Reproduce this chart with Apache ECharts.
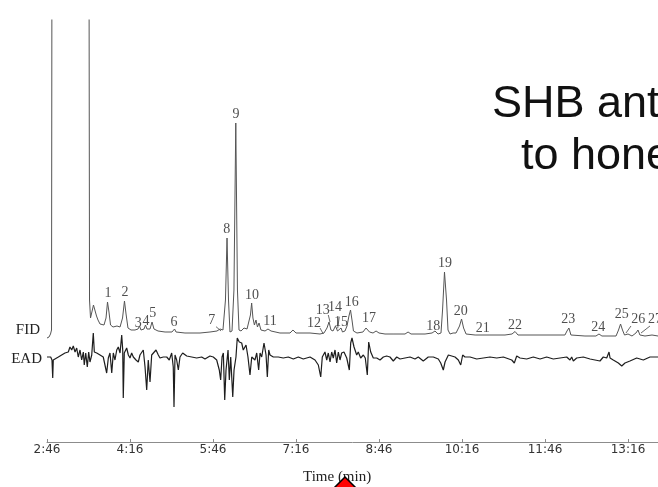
<!DOCTYPE html>
<html>
<head>
<meta charset="utf-8">
<script src="https://cdn.jsdelivr.net/npm/echarts@6/dist/echarts.min.js"></script>
<style>
  html, body { margin: 0; padding: 0; background: #fff; }
  #main { width: 658px; height: 487px; }
</style>
</head>
<body>
<div id="main"></div>
<script>
// retention time in seconds, signal in arbitrary units (FID baseline = 0, EAD baseline = 0)
var tickSeconds = [166, 256, 346, 436, 526, 616, 706, 796];

// FID trace [time_s, response]
var fidTrace = [
  [166, -8], [168.2, -7], [169.8, -4], [170.9, 0], [171.4, 420],
  [211.5, 420], [212.1, 30], [213.2, 12], [214.8, 10], [216.4, 25], [218, 27], [219.7, 14],
  [221.3, 10], [223.5, 6], [225.6, 8], [227.8, 5], [230, 12], [231.6, 28], [233.2, 18],
  [234.9, 5], [237.6, 3], [241.9, 4], [245.2, 3], [247.9, 12], [250, 29], [251.7, 16],
  [253.8, 2], [257.1, 0], [261.4, 0], [264.7, 1], [266.3, 4], [267.9, 0], [271.2, 1],
  [272.8, 5], [274.4, 1], [277.7, 1], [279.9, 8], [282, 1], [286.4, -1], [294, -2],
  [301.5, -2], [304.3, 1], [305.9, -2], [315.6, -3], [331.9, -3], [342.7, -2], [350.3, -1],
  [353.6, 1], [356.8, 0], [359.5, 30], [361.2, 92], [362.8, 30], [364.4, -2], [366.6, -1],
  [368.7, 40], [370.7, 207], [372.5, 40], [374.2, 0], [376.4, -1], [379.6, 2], [382.9, 1],
  [385, 0], [386.6, 15], [387.9, 27], [389.3, 12], [390.9, 5], [392.6, 10], [394.2, 3],
  [395.9, 7], [398, 0], [402.4, -1], [405.6, 1], [407.3, 3], [408.9, -1], [418.6, -3],
  [429.5, -3], [432.7, 0], [436, -3], [451.2, -3], [462, -4], [466.3, -3], [469.6, 2],
  [471.8, 8], [473.9, 0], [476.1, -1], [478.8, 4], [481, -1], [483.1, -3], [484.8, 2],
  [486.4, -2], [489.1, -1], [491.3, 4], [493.4, 14], [495.1, 20], [496.7, 10], [498.3, -1],
  [502.1, -3], [508.6, -2], [511.9, 2], [513.5, 3], [515.7, -2], [519.5, -3], [522.8, -1],
  [526, -3], [532.5, -4], [541.2, -4], [543.3, -2], [545.5, -4], [554.2, -4], [557.5, -2],
  [560.7, -4], [575.9, -4], [583.5, -3], [586.7, -1], [590, -4], [593.2, -3], [594.9, 20],
  [597, 58], [599.2, 30], [600.8, 0], [603, -4], [606.3, -3], [609.5, -3], [613.3, 4],
  [615.5, 11], [617.7, 2], [620.4, -4], [630.2, -5], [646.3, -5], [662.6, -5], [670.2, -4],
  [673.5, -1.5], [676.7, -5], [689.7, -5], [711.4, -5], [727.6, -5], [729.8, -1], [731.9, 2],
  [734.1, -5], [749.3, -6], [761.2, -6], [764.5, -4], [767.7, -6], [783, -6], [785.7, 0],
  [787.9, 6], [790, 0], [792.2, -5], [793.8, -3], [796, -4], [800.3, -6], [804.6, -3],
  [806.8, 0], [808.9, -5], [814.4, -6], [822, -5], [828.5, -6]
];

// EAD trace [time_s, response]
var eadTrace = [
  [166, 1], [167.4, -1], [170, 1], [171.4, -2], [172.2, -20], [172.8, -2], [174.7, -1],
  [178.3, 1], [181.9, 3], [185.5, 5], [189.1, 6], [190.9, 11], [192.8, 8], [194.5, 12],
  [196.4, 6], [198.2, 10], [199.9, 1], [201.8, 8], [203.6, -2], [205.4, 6], [206.4, -7],
  [208, 5], [209.7, -9], [211.2, 6], [212.6, -4], [214.5, 3], [216.2, 25], [217.3, 6],
  [219.9, 5], [223.5, 3], [227, 1], [228.9, 0], [230.7, -15], [232.5, 0], [234.3, 5],
  [236.2, -15], [237.9, 5], [239.7, -2], [241.6, 8], [243.3, 11], [245.2, 5], [247, 23],
  [248.1, 8], [248.7, -40], [249.8, 5], [252.4, 10], [254.2, 3], [256, 0], [257.8, 5],
  [259.6, 1], [262.5, -2], [265, -4], [266.8, 3], [270.4, 8], [272.3, -9], [274.1, -32],
  [275.8, -2], [277.7, -24], [279.5, 3], [281.3, 5], [284.2, 8], [286.7, 3], [288.5, 0],
  [290.4, -1], [292.1, 1], [294, -1], [295.8, 1], [298.6, -2], [301.2, 5], [302.9, -9],
  [303.7, -49], [304.8, 3], [306.6, -2], [308.4, -12], [310.2, 1], [313.1, 5], [317.5, 2],
  [322.9, 1], [328.3, 0], [333.7, 1], [337.3, -1], [342.7, 2], [346.3, 1], [350, -2],
  [352.8, -12], [354.3, -22], [355.8, 1], [357.2, 5], [358.7, -42], [360.1, -12], [362.3, 8],
  [363.7, -22], [365.2, 1], [367.4, -39], [368.8, -12], [370.9, 1], [372.3, 20], [374.5, 16],
  [377.1, 15], [378.8, 8], [381.8, 13], [383.9, 1], [386.1, -17], [388, 1], [389.7, 3],
  [391.5, -2], [393.4, 5], [395.5, -12], [397, 5], [398.8, 1], [401.3, 15], [403.5, 3],
  [404.9, -19], [406.4, 8], [407.8, 3], [411.4, 1], [416.8, 1], [422.2, 0], [427.6, 1],
  [433.1, -1], [438.5, 1], [443.9, -1], [451.2, 1], [456.6, -2], [460.2, -7], [462.8, -19],
  [464.5, 1], [467.4, 6], [469.3, -2], [471, 5], [472.9, -4], [474.7, 6], [476.4, 0],
  [478.3, 8], [480.1, -5], [481.9, 6], [483.7, -2], [485.5, 5], [488, 6], [491, 0],
  [493.8, -12], [495.3, 15], [496.7, 20], [498.9, 11], [501.8, 3], [503.5, 6], [506.1, 0],
  [509, 3], [511.1, 0], [513.3, -17], [514.8, 16], [517, 6], [519.8, 0], [523.5, 0],
  [527.1, -2], [530.7, 1], [534.3, 2], [537.9, 1], [541.5, -3], [545.2, 1], [548.8, -1],
  [554.2, 0], [559.6, 1], [565, -1], [568.6, 1], [574, -3], [579.4, 1], [584.9, 1],
  [590.3, -1], [592.9, -5], [595.7, -12], [597.6, -4], [601.2, 3], [604.8, 2], [608.4, 1],
  [612, -2], [614.6, -7], [616.7, 3], [619.2, 1], [624.7, 1], [631.9, -1], [639.1, 0],
  [646.3, 1], [653.6, 0], [660.8, 1], [669.9, -2], [672.7, -5], [675.3, 2], [678.9, 0],
  [686.1, -1], [693.3, 1], [700.6, -1], [707.8, 1], [715, -1], [722.3, 0], [729.5, 1],
  [733.1, -2], [734.9, 1], [736.7, -3], [740.3, 0], [747.5, 1], [754.8, -1], [760.2, -2],
  [765.6, -3], [769.2, 1], [772.9, 0], [775.4, 6], [776.5, 0], [780, -2], [785.5, -5],
  [789.2, -8], [792.7, -5], [798.1, -3], [805.4, 0], [812.6, -2], [819.8, 1], [828.5, 1]
];

// peak numbers and where their numbers sit (time_s, FID level)
var peakIds = ['1','2','3','4','5','6','7','8','9','10','11','12','13','14','15','16','17','18','19','20','21','22','23','24','25','26','27'];
var peakLabelTimes = [232.1, 250.6, 265, 273.3, 280.6, 303.7, 344.6, 360.8, 370.9, 388.3, 407.8, 455.5, 465, 478.3, 484.8, 496.4, 515.1, 584.9, 597.5, 614.6, 638.4, 673.5, 731.3, 763.8, 789.2, 807.2, 825.3];
var peakLabelLevels = [37, 38, 7, 9, 17, 8, 10, 101, 216, 35, 9, 7, 20, 23, 8, 28, 12, 4, 67, 19, 2, 5, 11, 3, 16, 11, 11];

// leader lines from some numbers to their peaks [t1, v1, t2, v2]
var leaderLines = [
  [349.3, 3.3, 354.7, -1],
  [462, 2, 465.6, -4],
  [471, 15, 472.9, 8],
  [481.2, 1.7, 482.9, 13.3],
  [799.2, 4, 793.8, -3],
  [819.8, 4, 810.1, -3]
];

function fmtTime(v) {
  var m = Math.floor(v / 60), s = Math.round(v % 60);
  return m + ':' + (s < 10 ? '0' + s : s);
}

var labelData = peakIds.map(function (id, i) {
  return { name: id, value: [peakLabelTimes[i], peakLabelLevels[i]] };
});

var myChart = echarts.init(document.getElementById('main'));
var option = {
  backgroundColor: '#ffffff',
  animation: false,
  grid: { left: 47, right: 0, top: 20, bottom: 45 },
  xAxis: {
    type: 'value',
    min: 166,
    max: 828.5,
    interval: 90,
    axisLine: { onZero: false, lineStyle: { color: '#8c8c8c', width: 1 } },
    axisTick: { show: true, inside: true, length: 3, lineStyle: { color: '#8c8c8c' } },
    axisLabel: {
      showMaxLabel: false,
      margin: 2,
      color: '#333',
      fontFamily: 'DejaVu Sans',
      fontSize: 12,
      formatter: function (v) { return tickSeconds.indexOf(v) >= 0 ? fmtTime(v) : ''; }
    },
    splitLine: { show: false }
  },
  yAxis: [
    { type: 'value', min: -112, max: 310, show: false },
    { type: 'value', min: -84, max: 338, show: false }
  ],
  series: [
    {
      name: 'FID', type: 'line', yAxisIndex: 0, data: fidTrace,
      symbol: 'none', lineStyle: { color: '#555', width: 1 }, z: 3
    },
    {
      name: 'EAD', type: 'line', yAxisIndex: 1, data: eadTrace,
      symbol: 'none', lineStyle: { color: '#1e1e1e', width: 1.2 }, z: 3
    },
    {
      name: 'peaks', type: 'scatter', yAxisIndex: 0, data: labelData,
      symbolSize: 0, silent: true, clip: false,
      label: {
        show: true, position: 'inside', formatter: '{b}',
        fontFamily: 'Liberation Serif', fontSize: 14, color: '#222'
      }
    },
    {
      name: 'leaders', type: 'lines', coordinateSystem: 'cartesian2d', yAxisIndex: 0,
      data: leaderLines.map(function (l) { return { coords: [[l[0], l[1]], [l[2], l[3]]] }; }),
      lineStyle: { color: '#444', width: 0.8, opacity: 1 }, silent: true
    }
  ],
  graphic: [
    { type: 'text', x: 40, y: 330, style: { text: 'FID', fontFamily: 'Liberation Serif', fontSize: 15, fill: '#222', textAlign: 'right', textVerticalAlign: 'middle' } },
    { type: 'text', x: 42, y: 359, style: { text: 'EAD', fontFamily: 'Liberation Serif', fontSize: 15, fill: '#222', textAlign: 'right', textVerticalAlign: 'middle' } },
    { type: 'text', x: 303, y: 477, style: { text: 'Time (min)', fontFamily: 'Liberation Serif', fontSize: 15, fill: '#222', textAlign: 'left', textVerticalAlign: 'middle' } },
    { type: 'text', x: 492, y: 105, style: { text: 'SHB ant', fontFamily: 'Liberation Sans', fontSize: 45, fill: '#111', textAlign: 'left', textVerticalAlign: 'middle' } },
    { type: 'text', x: 521, y: 157, style: { text: 'to hone', fontFamily: 'Liberation Sans', fontSize: 45, fill: '#111', textAlign: 'left', textVerticalAlign: 'middle' } },
    { type: 'polygon', z: 100, shape: { points: [[345, 477], [332, 490], [358, 490]] }, style: { fill: '#ff0000', stroke: '#000', lineWidth: 1.5 } }
  ]
};
myChart.setOption(option);
</script>
</body>
</html>
